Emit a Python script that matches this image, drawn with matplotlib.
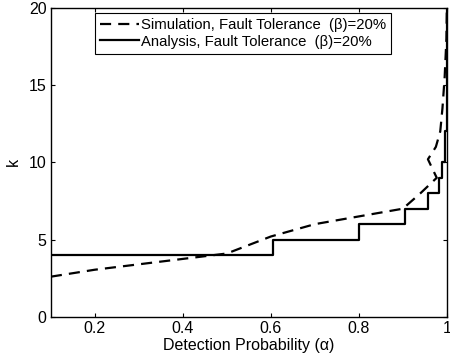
import matplotlib
matplotlib.use("Agg")
import matplotlib.pyplot as plt

plt.rcParams['font.family'] = ['Liberation Sans', 'DejaVu Sans']

sim_alpha = [0.1, 0.2, 0.3, 0.4, 0.5, 0.6, 0.7, 0.8, 0.9, 0.94, 0.977, 0.957, 0.975, 0.985, 0.99, 0.995, 0.999, 1.0]
sim_k = [2.6, 3.05, 3.4, 3.75, 4.1, 5.2, 6.0, 6.5, 7.0, 8.0, 9.0, 10.2, 11.0, 12.0, 13.5, 15.5, 18.0, 20.0]

ana_alpha = [0.1, 0.605, 0.8, 0.905, 0.957, 0.982, 0.99, 0.995, 0.9995, 1.0]
ana_k = [4, 5, 6, 7, 8, 9, 10, 12, 20, 20]

xticks = [0.2, 0.4, 0.6, 0.8, 1]
yticks = [0, 5, 10, 15, 20]

fig = plt.figure(figsize=(4.5, 3.58), dpi=100)
ax = fig.add_axes([0.113, 0.115, 0.88, 0.863])
ax.plot(sim_alpha, sim_k, 'k--', lw=1.6, dashes=(5, 3.2),
        label='Simulation, Fault Tolerance  (β)=20%')
ax.plot(ana_alpha, ana_k, 'k-', lw=1.6, drawstyle='steps-post',
        label='Analysis, Fault Tolerance  (β)=20%')
ax.set_xlim(0.1, 1)
ax.set_ylim(0, 20)
ax.set_xticks(xticks)
ax.set_xticklabels(['0.2', '0.4', '0.6', '0.8', '1'])
ax.set_yticks(yticks)
ax.tick_params(direction='in', top=True, right=True, labelsize=11.5, length=3, width=0.8, pad=3)
for s in ax.spines.values():
    s.set_linewidth(1.0)
ax.set_xlabel('Detection Probability (α)', fontsize=11.5, labelpad=1.5)
ax.set_ylabel('k', fontsize=11.5, labelpad=6)
leg = ax.legend(loc='upper right', bbox_to_anchor=(0.86, 0.985), fontsize=10.7,
                frameon=True, fancybox=False, edgecolor='black', framealpha=1,
                borderpad=0.35, labelspacing=0.2, handlelength=2.6, handletextpad=0.15,
                borderaxespad=0)
leg.get_frame().set_linewidth(0.8)
fig.savefig('out.png', dpi=100)
